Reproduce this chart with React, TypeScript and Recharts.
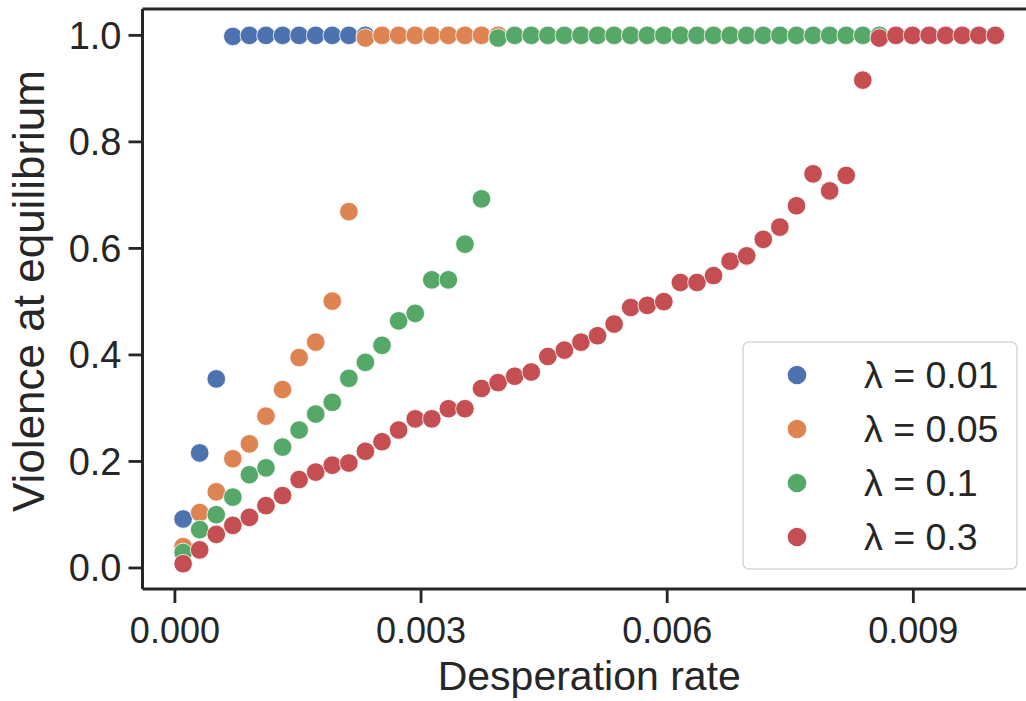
import { ScatterChart, Scatter, XAxis, YAxis, ReferenceLine, Label } from 'recharts';

// desperation rate values (x)
const xValues = [
  0.0001, 0.000302, 0.000504, 0.000706, 0.000908, 0.00111, 0.001312, 0.001514, 0.001716, 0.001918,
  0.00212, 0.002322, 0.002524, 0.002727, 0.002929, 0.003131, 0.003333, 0.003535, 0.003737, 0.003939,
  0.004141, 0.004343, 0.004545, 0.004747, 0.004949, 0.005151, 0.005353, 0.005555, 0.005757, 0.005959,
  0.006161, 0.006363, 0.006565, 0.006767, 0.006969, 0.007171, 0.007373, 0.007576, 0.007778, 0.00798,
  0.008182, 0.008384, 0.008586, 0.008788, 0.00899, 0.009192, 0.009394, 0.009596, 0.009798, 0.01,
];

// violence at equilibrium, one list per lambda
const lambda001 = [
  0.092, 0.216, 0.355, 0.998, 1, 1, 1, 1, 1, 1,
  1, 1, 1, 1, 1, 1, 1, 1, 1, 1,
  1, 1, 1, 1, 1, 1, 1, 1, 1, 1,
  1, 1, 1, 1, 1, 1, 1, 1, 1, 1,
  1, 1, 1, 1, 1, 1, 1, 1, 1, 1,
];
const lambda005 = [
  0.04, 0.104, 0.143, 0.205, 0.233, 0.285, 0.335, 0.395, 0.424, 0.501,
  0.669, 0.995, 1, 1, 1, 1, 1, 1, 1, 1,
  1, 1, 1, 1, 1, 1, 1, 1, 1, 1,
  1, 1, 1, 1, 1, 1, 1, 1, 1, 1,
  1, 1, 1, 1, 1, 1, 1, 1, 1, 1,
];
const lambda01 = [
  0.029, 0.072, 0.1, 0.133, 0.175, 0.188, 0.227, 0.259, 0.289, 0.311,
  0.356, 0.386, 0.418, 0.464, 0.478, 0.541, 0.541, 0.608, 0.693, 0.995,
  1, 1, 1, 1, 1, 1, 1, 1, 1, 1,
  1, 1, 1, 1, 1, 1, 1, 1, 1, 1,
  1, 1, 1, 1, 1, 1, 1, 1, 1, 1,
];
const lambda03 = [
  0.008, 0.034, 0.063, 0.08, 0.095, 0.117, 0.136, 0.166, 0.18, 0.193,
  0.197, 0.219, 0.237, 0.259, 0.28, 0.28, 0.299, 0.299, 0.337, 0.348,
  0.36, 0.368, 0.397, 0.409, 0.424, 0.436, 0.458, 0.489, 0.493, 0.5,
  0.536, 0.536, 0.549, 0.576, 0.586, 0.617, 0.64, 0.68, 0.74, 0.708,
  0.737, 0.916, 0.995, 1, 1, 1, 1, 1, 1, 1,
];

const seriesNames = ['λ = 0.01', 'λ = 0.05', 'λ = 0.1', 'λ = 0.3'];
const seriesColors = ['#4C72B0', '#DD8452', '#55A868', '#C44E52'];
const seriesValues = [lambda001, lambda005, lambda01, lambda03];

const xTicks = [0, 0.003, 0.006, 0.009];
const yTicks = [0, 0.2, 0.4, 0.6, 0.8, 1.0];

const FONT = "'Liberation Sans', Arial, sans-serif";
const INK = '#262626';

const toPoints = (ys: number[]) => xValues.map((x, i) => ({ x, y: ys[i] }));

const dot = (color: string) => (props: any) => (
  <circle cx={props.cx} cy={props.cy} r={9.3} fill={color} stroke="#fff" strokeWidth={0.8} />
);

const LegendBox = () => (
  <svg width={276} height={230} style={{ position: 'absolute', left: 742, top: 341 }}>
    <rect x={1} y={1} width={274} height={227} rx={6} fill="#fff" fillOpacity={0.8} stroke="#d6d6d6" strokeWidth={1.5} />
    {seriesNames.map((name, i) => (
      <g key={name}>
        <circle cx={55} cy={34 + i * 54} r={9.3} fill={seriesColors[i]} />
        <text x={122} y={34 + i * 54 + 13} fontSize={37.5} fontFamily={FONT} fill={INK}>
          {name}
        </text>
      </g>
    ))}
  </svg>
);

export default function App() {
  return (
    <div style={{ position: 'absolute', left: 0, top: 0, width: 1026, height: 701, overflow: 'hidden', background: '#fff' }}>
      <ScatterChart width={1050} height={701} margin={{ top: 9, right: 14, bottom: 0, left: 0 }}>
        <XAxis
          type="number"
          dataKey="x"
          domain={[-0.000395, 0.010495]}
          allowDataOverflow
          ticks={xTicks}
          tickFormatter={(v: number) => v.toFixed(3)}
          height={112}
          tickSize={14}
          tickMargin={14}
          axisLine={{ stroke: INK, strokeWidth: 3 }}
          tickLine={{ stroke: INK, strokeWidth: 2.8 }}
          tick={{ fill: INK, fontSize: 36, fontFamily: FONT }}
        >
          <Label value="Desperation rate" position="center" dy={30} fill={INK} fontSize={41} fontFamily={FONT} />
        </XAxis>
        <YAxis
          type="number"
          dataKey="y"
          domain={[-0.0395, 1.0495]}
          allowDataOverflow
          ticks={yTicks}
          tickFormatter={(v: number) => v.toFixed(1)}
          width={142.5}
          tickSize={14}
          tickMargin={7}
          axisLine={{ stroke: INK, strokeWidth: 3 }}
          tickLine={{ stroke: INK, strokeWidth: 2.8 }}
          tick={{ fill: INK, fontSize: 38, fontFamily: FONT }}
        >
          <Label value="Violence at equilibrium" position="center" angle={-90} dx={-43} dy={-8} fill={INK} fontSize={44} fontFamily={FONT} />
        </YAxis>
        <ReferenceLine y={1.0495} stroke={INK} strokeWidth={3} />
        <ReferenceLine x={0.010495} stroke={INK} strokeWidth={3} />
        {seriesValues.map((ys, i) => (
          <Scatter
            key={seriesNames[i]}
            name={seriesNames[i]}
            data={toPoints(ys)}
            fill={seriesColors[i]}
            shape={dot(seriesColors[i])}
            isAnimationActive={false}
          />
        ))}
      </ScatterChart>
      <LegendBox />
    </div>
  );
}
